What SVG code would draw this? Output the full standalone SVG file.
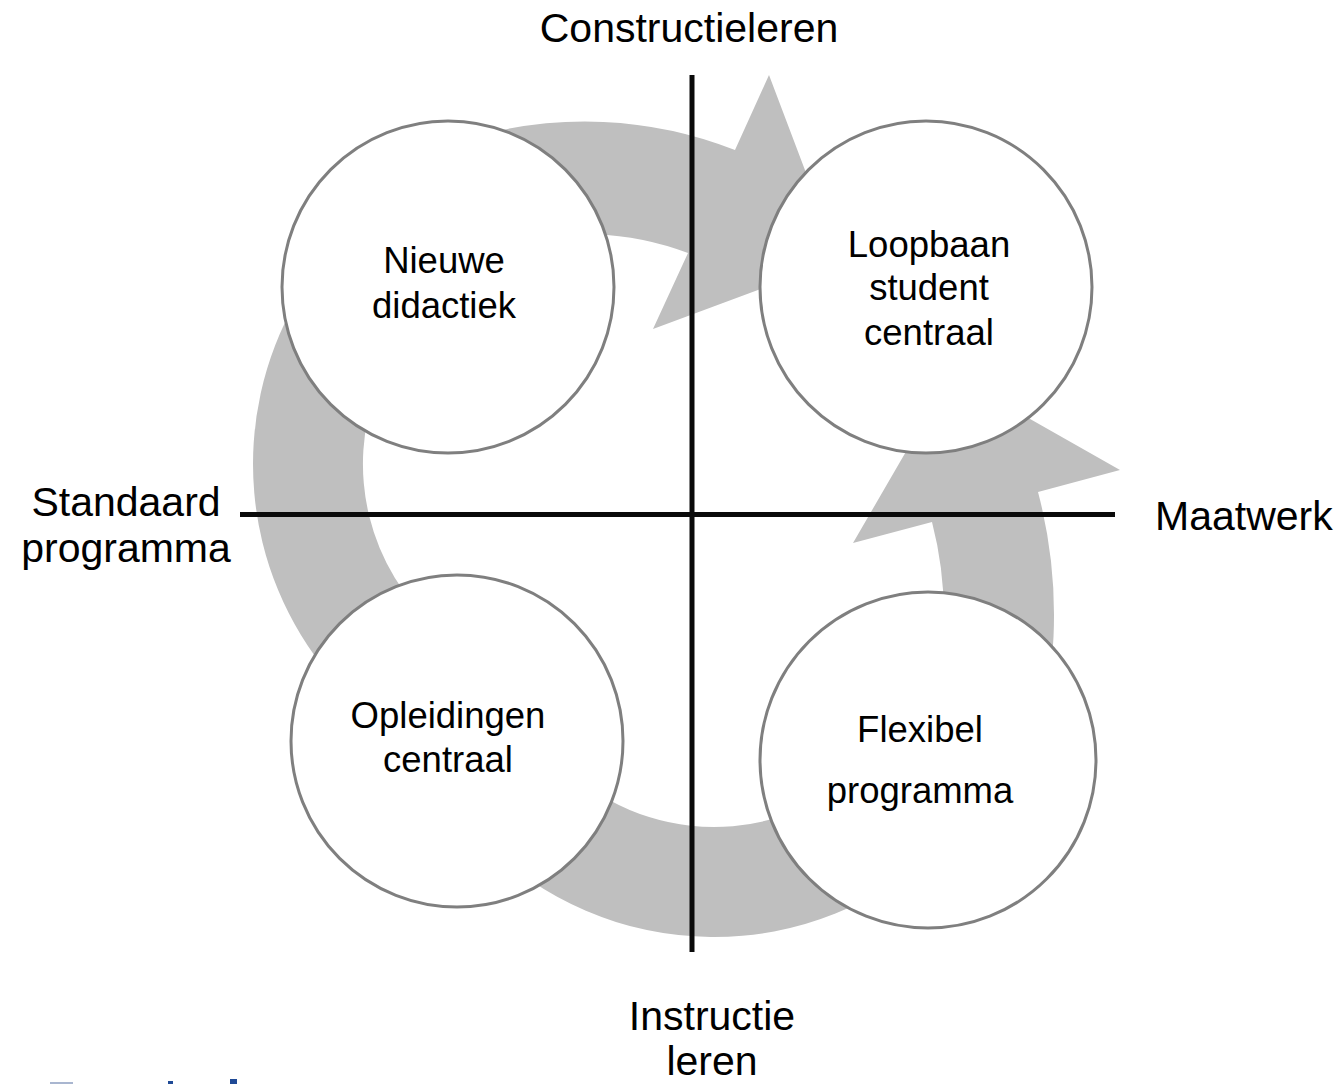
<svg xmlns="http://www.w3.org/2000/svg" width="1344" height="1084" viewBox="0 0 1344 1084">
<style>
.band{fill:#bfbfbf;stroke:none}
.axis{stroke:#0a0a0a;stroke-width:5;fill:none}
.node circle{fill:#ffffff;stroke:#7f7f7f;stroke-width:3}
.nt{font-family:"Liberation Sans",Arial,sans-serif;font-size:36.5px;fill:#000;text-anchor:middle}
.at{font-family:"Liberation Sans",Arial,sans-serif;font-size:41px;fill:#000;text-anchor:middle}
</style>
<rect width="1344" height="1084" fill="#ffffff"/>
<g id="connectors">
<path class="band" d="M470,138 A409,409 0 0 1 735,150 L769,75 L839,260 L653,329 L688,253 A297,297 0 0 0 501.5,245.5 Z"/>
<path class="band" d="M296.8,300 A329,329 0 0 0 330,675.5 L414.2,604.8 A219,219 0 0 1 392.1,354.8 Z"/>
<path class="band" d="M504.4,860.7 A326,326 0 0 0 963.7,820.6 L879.5,749.8 A216,216 0 0 1 575.2,776.5 Z"/>
<path class="band" d="M1025,779.5 A481,481 0 0 0 1038,492 L1120,470 L951,374 L853,543 L932,522 A371,371 0 0 1 921.6,741.9 Z"/>
</g>
<g id="axes">
<line class="axis" x1="692" y1="75" x2="692" y2="952"/>
<line class="axis" x1="240" y1="514.5" x2="1115" y2="514.5"/>
<text class="at" x="689" y="42">Constructieleren</text>
<text class="at" x="126" y="516">Standaard</text>
<text class="at" x="126" y="562">programma</text>
<text class="at" x="1155" y="530" style="text-anchor:start">Maatwerk</text>
<text class="at" x="712" y="1030">Instructie</text>
<text class="at" x="712" y="1075">leren</text>
</g>
<g id="node-nieuwe" class="node">
<circle cx="448" cy="287" r="166"/>
<text class="nt" x="444" y="273">Nieuwe</text>
<text class="nt" x="444" y="318">didactiek</text>
</g>
<g id="node-loopbaan" class="node">
<circle cx="926" cy="287" r="166"/>
<text class="nt" x="929" y="257">Loopbaan</text>
<text class="nt" x="929" y="300">student</text>
<text class="nt" x="929" y="345">centraal</text>
</g>
<g id="node-opleidingen" class="node">
<circle cx="457" cy="741" r="166"/>
<text class="nt" x="448" y="728">Opleidingen</text>
<text class="nt" x="448" y="772">centraal</text>
</g>
<g id="node-flexibel" class="node">
<circle cx="928" cy="760" r="168"/>
<text class="nt" x="920" y="742">Flexibel</text>
<text class="nt" x="920" y="803">programma</text>
</g>
<g id="logo-fragment">
<rect x="50" y="1082" width="23" height="2" fill="#a9b6d0"/>
<rect x="168" y="1081" width="5" height="3" fill="#1f4a96"/>
<rect x="230" y="1079" width="7" height="5" fill="#1f4a96"/>
</g>
</svg>
